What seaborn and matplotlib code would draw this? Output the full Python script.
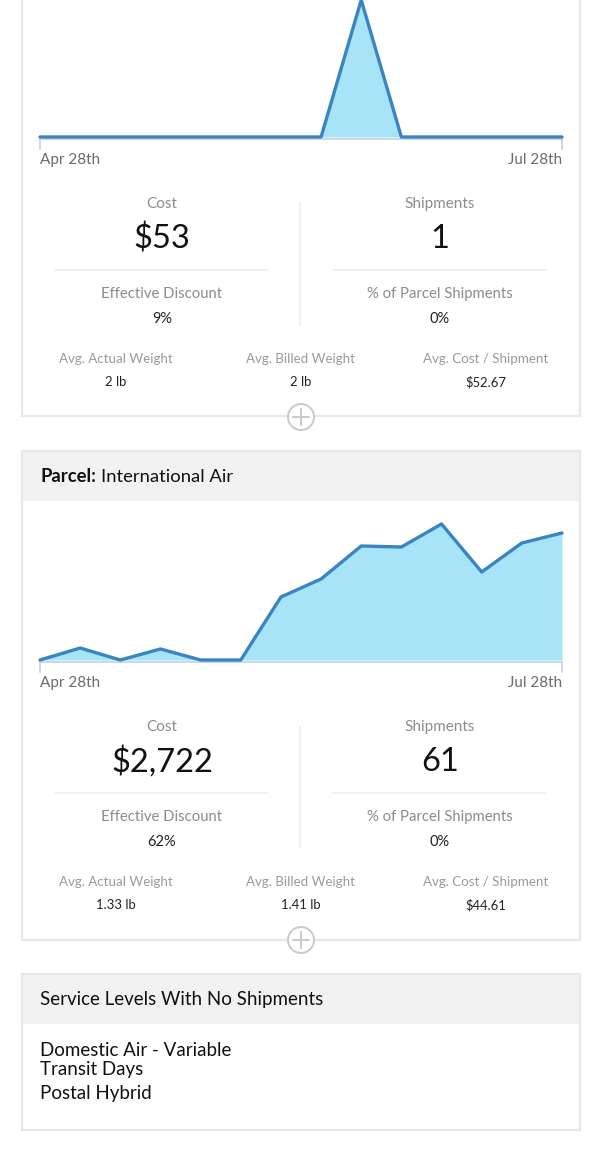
import seaborn as sns
import matplotlib.pyplot as plt
from matplotlib.patches import Rectangle, Circle

# weekly points, Apr 28th -> Jul 28th
weeks = list(range(14))
top_values = [0, 0, 0, 0, 0, 0, 0, 0, 1, 0, 0, 0, 0, 0]
intl_air_values = [0, 12, 0, 11, 0, 0, 63, 81, 114, 113, 136, 88, 117, 127]
date_labels = ["Apr 28th", "Jul 28th"]

main_labels = ["Cost", "Shipments"]
sub_labels = ["Effective Discount", "% of Parcel Shipments"]
avg_labels = ["Avg. Actual Weight", "Avg. Billed Weight", "Avg. Cost / Shipment"]

top_main_values = ["$53", "1"]
top_sub_values = ["9%", "0%"]
top_avg_values = ["2 lb", "2 lb", "$52.67"]

intl_main_values = ["$2,722", "61"]
intl_sub_values = ["62%", "0%"]
intl_avg_values = ["1.33 lb", "1.41 lb", "$44.61"]

no_ship_title = "Service Levels With No Shipments"
no_ship_levels = ["Domestic Air - Variable\nTransit Days", "Postal Hybrid"]

LINE = "#3a84c1"
FILL = "#a8e4f7"
BORDER = "#e8e8e8"
HEADER = "#f2f2f2"
GRAY = "#8c8c8c"
AXIS = "#c8d3ea"

sns.set_style("white")
plt.rcParams["font.family"] = ["Lato", "DejaVu Sans"]

W, H = 600, 1152
fig = plt.figure(figsize=(6, 11.52), dpi=100)
bg = fig.add_axes([0, 0, 1, 1])
bg.set_xlim(0, W)
bg.set_ylim(H, 0)
bg.axis("off")


def px_axes(x0, y0, x1, y1):
    ax = fig.add_axes([x0 / W, 1 - y1 / H, (x1 - x0) / W, (y1 - y0) / H])
    ax.patch.set_visible(False)
    ax.axis("off")
    return ax


def card(y0, y1, header=None):
    bg.add_patch(Rectangle((22, y0), 558, y1 - y0, facecolor="white",
                           edgecolor=BORDER, lw=1.6, zorder=1))
    if header:
        bg.add_patch(Rectangle((23, y0 + 1), 556, header - y0 - 1,
                               facecolor=HEADER, edgecolor="none", zorder=2))


def area_chart(values, y0, y1, ymax):
    ax = px_axes(40, y0, 562, y1)
    sns.lineplot(x=weeks, y=values, ax=ax, color=LINE, linewidth=2.4)
    ax.fill_between(weeks, values, 0, color=FILL, lw=0, zorder=1)
    for ln in ax.lines:
        ln.set_clip_on(False)
        ln.set_zorder(3)
    ax.set_xlim(weeks[0], weeks[-1])
    ax.set_ylim(0, ymax)
    # axis baseline with end ticks
    bg.plot([40, 562], [y1 + 2, y1 + 2], color=AXIS, lw=1.3, zorder=3)
    for x in (40, 562):
        bg.plot([x, x], [y1 + 2, y1 + 12], color=AXIS, lw=1.3, zorder=3)
    bg.text(40, y1 + 23, date_labels[0], ha="left", va="center",
            fontsize=11, color="#6b6b6b", zorder=4)
    bg.text(562, y1 + 23, date_labels[1], ha="right", va="center",
            fontsize=11, color="#6b6b6b", zorder=4)


def stats(y, main_vals, sub_vals, avg_vals):
    for cx, lab, val, slab, sval in zip((162, 440), main_labels, main_vals,
                                        sub_labels, sub_vals):
        bg.text(cx, y + 1, lab, ha="center", va="center", fontsize=11, color=GRAY, zorder=4)
        bg.text(cx, y + 36, val, ha="center", va="center", fontsize=23.5, color="#111111", zorder=4)
        bg.plot([cx - 107, cx + 106], [y + 67, y + 67], color="#efefef", lw=1.2, zorder=3)
        bg.text(cx, y + 91, slab, ha="center", va="center", fontsize=10.7, color=GRAY, zorder=4)
        bg.text(cx, y + 116, sval, ha="center", va="center", fontsize=10.5, color="#222222", zorder=4)
    bg.plot([300, 300], [y, y + 122], color="#efefef", lw=1.2, zorder=3)
    for cx, lab, val in zip((116, 301, 486), avg_labels, avg_vals):
        bg.text(cx, y + 156, lab, ha="center", va="center", fontsize=9.6, color="#9a9a9a", zorder=4)
        bg.text(cx, y + 179, val, ha="center", va="center", fontsize=9.4, color="#222222", zorder=4)


def plus_icon(y):
    bg.add_patch(Circle((301, y), 13, facecolor="white", edgecolor="#c9c9c9", lw=1.4, zorder=5))
    bg.plot([293, 309], [y, y], color="#c9c9c9", lw=1.4, zorder=6)
    bg.plot([301, 301], [y - 8, y + 8], color="#c9c9c9", lw=1.4, zorder=6)


# first card (header scrolled off the top)
card(-20, 416)
area_chart(top_values, 0, 137, 1)
stats(203, top_main_values, top_sub_values, top_avg_values)
plus_icon(417)

# Parcel: International Air
card(451, 940, header=501)
t = bg.text(40, 477, "Parcel:", ha="left", va="center", fontsize=13.3,
            fontweight="bold", color="#111111", zorder=4)
fig.canvas.draw()
bb = t.get_window_extent().transformed(bg.transData.inverted())
bg.text(bb.x1 + 5, 477, "International Air", ha="left", va="center",
        fontsize=13.3, color="#111111", zorder=4)
area_chart(intl_air_values, 520, 660, 140)
stats(726, intl_main_values, intl_sub_values, intl_avg_values)
plus_icon(940)

# service levels with no shipments
card(974, 1130, header=1024)
bg.text(40, 1000, no_ship_title, ha="left", va="center", fontsize=13.5,
        color="#111111", zorder=4)
bg.text(40, 1060, no_ship_levels[0], ha="left", va="center", fontsize=13.5,
        color="#111111", linespacing=1.1, zorder=4)
bg.text(40, 1094, no_ship_levels[1], ha="left", va="center", fontsize=13.5,
        color="#111111", zorder=4)

fig.savefig("out.png", dpi=100)
